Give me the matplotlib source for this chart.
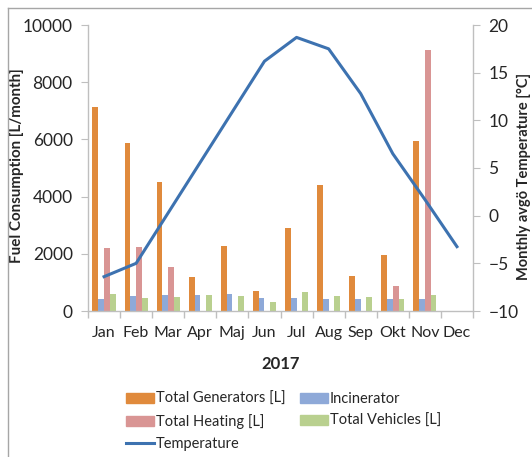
import matplotlib
matplotlib.use("Agg")
import matplotlib.pyplot as plt
import numpy as np
from matplotlib.lines import Line2D

plt.rcParams['font.family'] = ['Lato', 'DejaVu Sans']

months = ["Jan", "Feb", "Mar", "Apr", "Maj", "Jun", "Jul", "Aug", "Sep", "Okt", "Nov", "Dec"]
generators = [7120, 5860, 4510, 1200, 2280, 710, 2890, 4400, 1220, 1960, 5940, 0]
incinerator = [420, 520, 560, 560, 590, 465, 465, 420, 410, 420, 410, 0]
heating = [2210, 2250, 1550, 0, 0, 0, 0, 0, 0, 890, 9120, 0]
vehicles = [610, 465, 500, 560, 520, 300, 670, 520, 500, 420, 570, 0]
temperature = [-6.4, -5.0, 0.3, 5.6, 10.9, 16.2, 18.7, 17.5, 12.8, 6.5, 1.7, -3.25]

c_gen = "#E08A3C"
c_inc = "#8EA9D8"
c_heat = "#D99594"
c_veh = "#B9D08F"
c_temp = "#3D72B0"
grey = "#BFBFBF"
text_c = "#262626"

fig = plt.figure(figsize=(5.32, 4.57), dpi=100)
ax = fig.add_axes([88 / 532, 1 - 311 / 457, (473 - 88) / 532, (311 - 25) / 457])
ax2 = ax.twinx()

x = np.arange(len(months))
w = 0.18
series = [(generators, c_gen), (incinerator, c_inc), (heating, c_heat), (vehicles, c_veh)]
for i, (vals, col) in enumerate(series):
    ax.bar(x + (i - 1.5) * w, vals, width=w, color=col, zorder=2)

ax2.plot(x, temperature, color=c_temp, lw=2.2, zorder=3)

ax.set_xlim(-0.5, len(months) - 0.5)
ax.set_ylim(0, 10000)
ax2.set_ylim(-10, 20)
ax.set_yticks(np.arange(0, 10001, 2000))
ax2.set_yticks(np.arange(-10, 21, 5))

ax.set_xticks(x)
ax.set_xticklabels(months)
ax.set_xticks(np.arange(-0.5, len(months)), minor=True)
ax.tick_params(axis='x', which='major', length=0, pad=11, labelsize=11.5, labelcolor=text_c)
ax.tick_params(axis='x', which='minor', length=5, color=grey, width=1)
ax.tick_params(axis='y', length=5, color=grey, labelsize=12.5, labelcolor=text_c, pad=6)
ax2.tick_params(axis='y', length=5, color=grey, labelsize=12.5, labelcolor=text_c, pad=6)

for a in (ax, ax2):
    a.set_facecolor("none")
    a.spines['top'].set_visible(False)
    for s in ('left', 'right', 'bottom'):
        a.spines[s].set_color(grey)
        a.spines[s].set_linewidth(1)
ax.spines['right'].set_visible(False)
ax2.spines['left'].set_visible(False)
ax2.spines['bottom'].set_visible(False)
ax.set_zorder(ax2.get_zorder() - 1)
ax2.patch.set_visible(False)

ax.set_ylabel("Fuel Consumption [L/month]", fontsize=10.9, fontweight='bold', color=text_c)
ax.yaxis.set_label_coords((24 - 88) / 385, 0.51)
ax2.set_ylabel("Monthly avgö Temperature [°C]", fontsize=10.5, fontweight='bold', color=text_c)
ax2.yaxis.set_label_coords((517 - 88) / 385, 0.47)
ax.set_xlabel("2017", fontsize=12, fontweight='bold', color=text_c, labelpad=11)

handles = [
    plt.Rectangle((0, 0), 1, 1, color=c_gen),
    plt.Rectangle((0, 0), 1, 1, color=c_heat),
    Line2D([0], [0], color=c_temp, lw=2.2),
    plt.Rectangle((0, 0), 1, 1, color=c_inc),
    plt.Rectangle((0, 0), 1, 1, color=c_veh),
]
labels = ["Total Generators [L]", "Total Heating [L]", "Temperature", "Incinerator", "Total Vehicles [L]"]
fig.legend(handles, labels, ncol=2, loc='upper left', bbox_to_anchor=(126 / 532, 1 - 392 / 457),
           frameon=False, fontsize=10.5, handlelength=1.9, handleheight=0.6, handletextpad=0.15,
           columnspacing=1.0, labelspacing=0.55, borderaxespad=0, borderpad=0, labelcolor=text_c)

# thin chart-area frame
fig.add_artist(Line2D([7.5 / 532, 7.5 / 532], [0, 1 - 7.5 / 457], transform=fig.transFigure, color="#A6A6A6", lw=1))
fig.add_artist(Line2D([7.5 / 532, 1], [1 - 7.5 / 457, 1 - 7.5 / 457], transform=fig.transFigure, color="#A6A6A6", lw=1))

fig.savefig("out.png", dpi=100)
